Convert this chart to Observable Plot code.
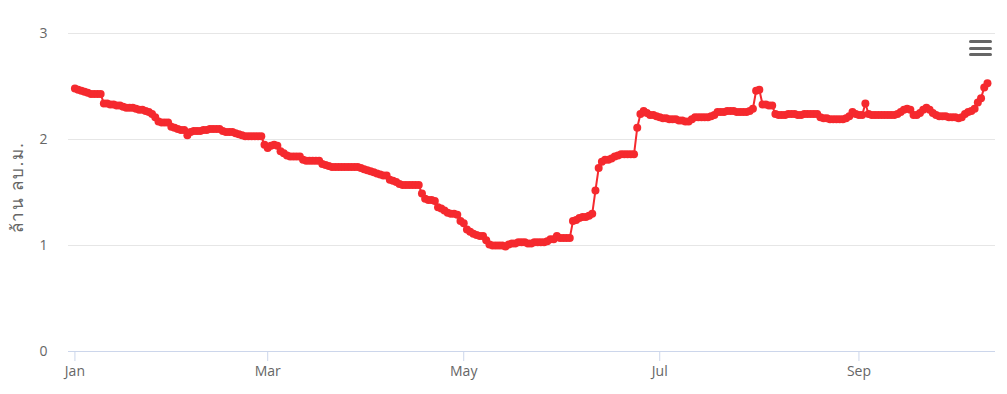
<!DOCTYPE html>
<html>
<head>
<meta charset="utf-8">
<script src="https://cdn.jsdelivr.net/npm/d3@7"></script>
<script src="https://cdn.jsdelivr.net/npm/@observablehq/plot@0.6"></script>
<style>
  html, body { margin: 0; padding: 0; background: #fff; }
  #wrap { position: relative; width: 1007px; height: 394px; overflow: hidden; }
  #menu { position: absolute; left: 969px; top: 40px; width: 23px; }
  #menu div { height: 3px; background: #666; border-radius: 1.5px; margin-bottom: 3.5px; }
</style>
</head>
<body>
<div id="wrap"><div id="menu"><div></div><div></div><div></div></div></div>
<script>
// Daily values (million m³) starting 1 Jan 2024
const startDate = [2024, 0, 1];
const values = [
  2.48, 2.47, 2.46, 2.45, 2.44, 2.43, 2.43, 2.43, 2.43, 2.34,
  2.34, 2.33, 2.33, 2.32, 2.32, 2.31, 2.30, 2.30, 2.30, 2.29,
  2.28, 2.28, 2.27, 2.26, 2.24, 2.21, 2.17, 2.16, 2.16, 2.16,
  2.12, 2.11, 2.10, 2.09, 2.09, 2.04, 2.07, 2.08, 2.08, 2.08,
  2.09, 2.09, 2.10, 2.10, 2.10, 2.10, 2.08, 2.07, 2.07, 2.07,
  2.06, 2.05, 2.04, 2.03, 2.03, 2.03, 2.03, 2.03, 2.03, 1.95,
  1.92, 1.94, 1.95, 1.94, 1.89, 1.87, 1.85, 1.84, 1.84, 1.84,
  1.84, 1.81, 1.80, 1.80, 1.80, 1.80, 1.80, 1.77, 1.76, 1.75,
  1.74, 1.74, 1.74, 1.74, 1.74, 1.74, 1.74, 1.74, 1.74, 1.73,
  1.72, 1.71, 1.70, 1.69, 1.68, 1.67, 1.66, 1.66, 1.62, 1.61,
  1.60, 1.58, 1.57, 1.57, 1.57, 1.57, 1.57, 1.57, 1.49, 1.44,
  1.43, 1.43, 1.42, 1.36, 1.35, 1.33, 1.31, 1.30, 1.30, 1.29,
  1.23, 1.21, 1.15, 1.13, 1.11, 1.10, 1.09, 1.09, 1.05, 1.01,
  1.00, 1.00, 1.00, 1.00, 0.99, 1.01, 1.02, 1.02, 1.03, 1.03,
  1.03, 1.02, 1.02, 1.03, 1.03, 1.03, 1.03, 1.04, 1.06, 1.06,
  1.09, 1.07, 1.07, 1.07, 1.07, 1.23, 1.24, 1.26, 1.27, 1.27,
  1.28, 1.30, 1.52, 1.73, 1.79, 1.81, 1.81, 1.82, 1.84, 1.85,
  1.86, 1.86, 1.86, 1.86, 1.86, 2.11, 2.24, 2.27, 2.25, 2.23,
  2.23, 2.22, 2.21, 2.20, 2.20, 2.19, 2.19, 2.19, 2.18, 2.18,
  2.17, 2.17, 2.19, 2.21, 2.21, 2.21, 2.21, 2.21, 2.22, 2.23,
  2.26, 2.26, 2.26, 2.27, 2.27, 2.27, 2.26, 2.26, 2.26, 2.26,
  2.27, 2.29, 2.46, 2.47, 2.33, 2.33, 2.32, 2.32, 2.24, 2.23,
  2.23, 2.23, 2.24, 2.24, 2.24, 2.23, 2.23, 2.24, 2.24, 2.24,
  2.24, 2.24, 2.21, 2.20, 2.20, 2.19, 2.19, 2.19, 2.19, 2.19,
  2.20, 2.22, 2.26, 2.24, 2.23, 2.23, 2.34, 2.24, 2.23, 2.23,
  2.23, 2.23, 2.23, 2.23, 2.23, 2.23, 2.24, 2.26, 2.28, 2.29,
  2.28, 2.23, 2.23, 2.25, 2.28, 2.30, 2.28, 2.25, 2.23, 2.22,
  2.22, 2.22, 2.21, 2.21, 2.21, 2.20, 2.21, 2.24, 2.26, 2.27,
  2.29, 2.35, 2.39, 2.49, 2.53
];
const tickDates = ["2024-01-01", "2024-03-01", "2024-05-01", "2024-07-01", "2024-09-01"];
const tickLabels = ["Jan", "Mar", "May", "Jul", "Sep"];
const yTicks = [0, 1, 2, 3];
const yTitle = "ล้าน ลบ.ม.";

const data = values.map((v, i) => ({
  date: new Date(Date.UTC(startDate[0], startDate[1], startDate[2] + i)),
  value: v
}));
const ticks = tickDates.map(s => new Date(s + "T00:00:00Z"));

const red = "#f5292e";
const textColor = "#666666";
const font = "'Open Sans', 'Noto Sans', sans-serif";

const chart = Plot.plot({
  width: 1007,
  height: 394,
  marginLeft: 68,
  marginRight: 12,
  marginTop: 33,
  marginBottom: 43,
  style: { fontFamily: font, fontSize: "14px", background: "white", overflow: "visible" },
  x: { type: "utc", domain: [new Date(Date.UTC(2023, 11, 30)), new Date(Date.UTC(2024, 9, 13, 12))] },
  y: { domain: [0, 3] },
  marks: [
    Plot.ruleY([1, 2, 3], { stroke: "#e6e6e6", strokeWidth: 1 }),
    Plot.ruleY([0], { stroke: "#ccd6eb", strokeWidth: 1 }),
    Plot.axisX({
      ticks: ticks,
      tickSize: 10,
      tickPadding: 5,
      tickFormat: (d, i) => tickLabels[i],
      stroke: "#ccd6eb",
      fill: textColor,
      fontSize: 14,
      label: null
    }),
    Plot.axisY({
      ticks: yTicks,
      tickSize: 0,
      tickPadding: 21,
      tickFormat: d => String(d),
      fill: textColor,
      fontSize: 14,
      label: null
    }),
    Plot.text([yTitle], {
      frameAnchor: "left",
      textAnchor: "middle",
      rotate: -90,
      dx: -51,
      dy: -5,
      fill: textColor,
      fontSize: 17,
      className: "ytitle"
    }),
    Plot.line(data, { x: "date", y: "value", stroke: red, strokeWidth: 2 }),
    Plot.dot(data, { x: "date", y: "value", r: 4, fill: red, stroke: "none" })
  ]
});
d3.select(chart).selectAll(".ytitle text").attr("letter-spacing", "1.6px");
document.getElementById("wrap").prepend(chart);
</script>
</body>
</html>
